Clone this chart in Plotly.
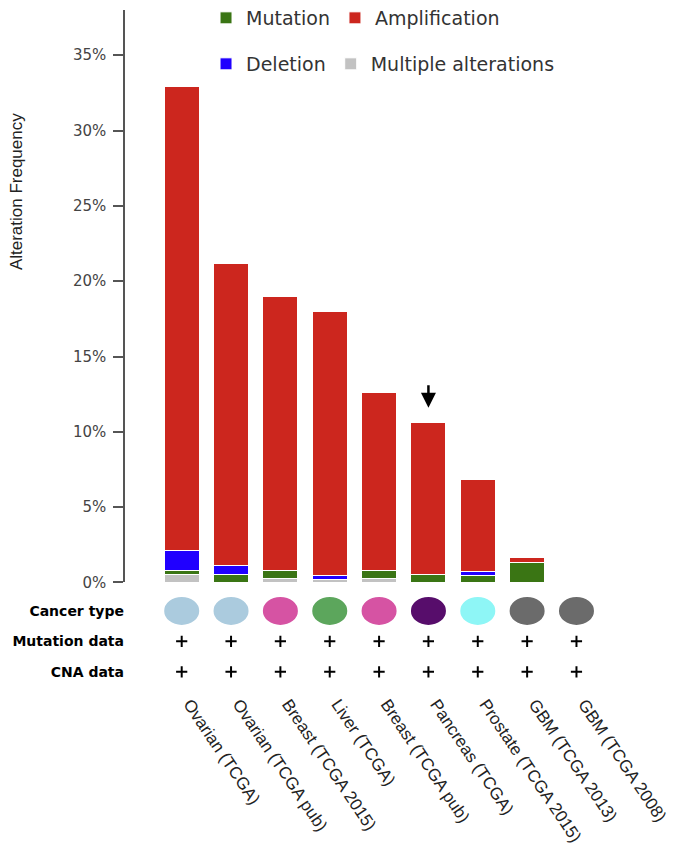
import plotly.graph_objects as go

STUDIES = ['Ovarian (TCGA)', 'Ovarian (TCGA pub)', 'Breast (TCGA 2015)', 'Liver (TCGA)',
           'Breast (TCGA pub)', 'Pancreas (TCGA)', 'Prostate (TCGA 2015)',
           'GBM (TCGA 2013)', 'GBM (TCGA 2008)']

# alteration frequency in %, stacked bottom to top
MULTIPLE = [0.5, 0.0, 0.25, 0.2, 0.25, 0.0, 0.0, 0.0, 0.0]
MUTATION = [0.3, 0.5, 0.55, 0.0, 0.55, 0.55, 0.45, 1.35, 0.0]
DELETION = [1.3, 0.6, 0.0, 0.25, 0.0, 0.0, 0.3, 0.0, 0.0]
AMPLIFICATION = [30.85, 20.05, 18.15, 17.55, 11.8, 10.05, 6.1, 0.3, 0.0]

CANCER_TYPE_COLORS = ['#abcbde', '#abcbde', '#d653a3', '#5ca65c', '#d653a3',
                      '#570d6b', '#8ef6f6', '#6b6b6b', '#6b6b6b']
HAS_MUTATION_DATA = [True, True, True, True, True, True, True, True, True]
HAS_CNA_DATA = [True, True, True, True, True, True, True, True, True]

ROW_LABELS = ['CNA data', 'Mutation data', 'Cancer type']
Y_TICKS = [0, 5, 10, 15, 20, 25, 30, 35]
ARROW_STUDY = 'Pancreas (TCGA)'

GREEN = '#3a7514'
RED = '#cc261e'
BLUE = '#2000ff'
GRAY = '#c2c2c2'


def add_bars(fig):
    series = [
        ('Multiple alterations', MULTIPLE, GRAY, 'legend2', 2),
        ('Mutation', MUTATION, GREEN, 'legend', 1),
        ('Deletion', DELETION, BLUE, 'legend2', 1),
        ('Amplification', AMPLIFICATION, RED, 'legend', 2),
    ]
    for name, values, color, legend, rank in series:
        fig.add_trace(go.Bar(
            x=STUDIES, y=values, name=name, xaxis='x', yaxis='y',
            marker=dict(color=color, line=dict(color='white', width=1)),
            legend=legend, legendrank=rank,
        ))


def add_annotation_rows(fig):
    for i, color in enumerate(CANCER_TYPE_COLORS):
        fig.add_shape(type='circle', xref='x2', yref='y2',
                      x0=i - 0.355, x1=i + 0.355, y0=2 - 0.46, y1=2 + 0.46,
                      fillcolor=color, line=dict(width=0))
    for label, flags in [('Mutation data', HAS_MUTATION_DATA), ('CNA data', HAS_CNA_DATA)]:
        xs = [s for s, f in zip(STUDIES, flags) if f]
        fig.add_trace(go.Scatter(
            x=xs, y=[label] * len(xs), xaxis='x2', yaxis='y2', mode='markers',
            marker=dict(symbol='cross-thin', size=8, line=dict(width=2, color='black')),
            showlegend=False, hoverinfo='skip',
        ))


def build_figure():
    fig = go.Figure()
    add_bars(fig)
    add_annotation_rows(fig)

    totals = [a + b + c + d for a, b, c, d in zip(MULTIPLE, MUTATION, DELETION, AMPLIFICATION)]
    arrow_idx = STUDIES.index(ARROW_STUDY)

    legend_style = dict(orientation='h', xanchor='left', yanchor='middle',
                        xref='container', yref='container',
                        font=dict(family='DejaVu Sans', size=19, color='#333'),
                        bgcolor='rgba(0,0,0,0)', traceorder='normal')

    fig.update_layout(
        width=690, height=861,
        margin=dict(l=117, r=48, t=2, b=182, autoexpand=False),
        paper_bgcolor='white', plot_bgcolor='white',
        barmode='stack', bargap=0.29,
        font=dict(family='Liberation Sans', color='#222'),
        legend=dict(x=0.287, y=0.9884, **legend_style),
        legend2=dict(x=0.287, y=0.935, **legend_style),
        xaxis=dict(domain=[0, 1], anchor='y', matches='x2', type='category',
                   categoryarray=STUDIES, showticklabels=False, showline=False,
                   showgrid=False, zeroline=False, ticks='', automargin=False),
        yaxis=dict(domain=[0.1544, 1], anchor='x', range=[0, 38], tickmode='array',
                   tickvals=Y_TICKS, ticktext=[f'{v}%' for v in Y_TICKS],
                   showline=True, linecolor='#555', linewidth=1.5,
                   ticks='outside', ticklen=10, tickcolor='#555', tickwidth=1.5,
                   ticklabelstandoff=4,
                   showgrid=False, zeroline=False, automargin=False,
                   tickfont=dict(family='DejaVu Sans', size=15, color='#444')),
        xaxis2=dict(domain=[0, 1], anchor='y2', type='category', categoryarray=STUDIES,
                    range=[-1.149, 9.49], tickangle=56, ticks='', showline=False,
                    ticklabelshift=8, ticklabelstandoff=3,
                    showgrid=False, zeroline=False, automargin=False,
                    tickfont=dict(family='Liberation Sans', size=17, color='#222')),
        yaxis2=dict(domain=[0, 0.1348], anchor='x2', type='category',
                    categoryarray=ROW_LABELS, range=[-0.5, 2.5], ticks='',
                    showline=False, showgrid=False, zeroline=False, automargin=False,
                    tickfont=dict(family='DejaVu Sans', size=14, color='black',
                                  weight='bold')),
        annotations=[
            dict(text='Alteration Frequency', xref='paper', yref='paper',
                 x=-0.2076, y=0.731, xanchor='center', yanchor='middle',
                 textangle=-90, showarrow=False,
                 font=dict(family='Liberation Sans', size=17, color='#222')),
            dict(x=STUDIES[arrow_idx], y=totals[arrow_idx] + 1.0, xref='x', yref='y',
                 text='', showarrow=True, ax=0, ay=-24, arrowhead=2, arrowsize=1.2,
                 arrowwidth=2.5, arrowcolor='black'),
        ],
    )
    return fig


def main():
    fig = build_figure()
    fig.write_html('out.html')


if __name__ == '__main__':
    main()
